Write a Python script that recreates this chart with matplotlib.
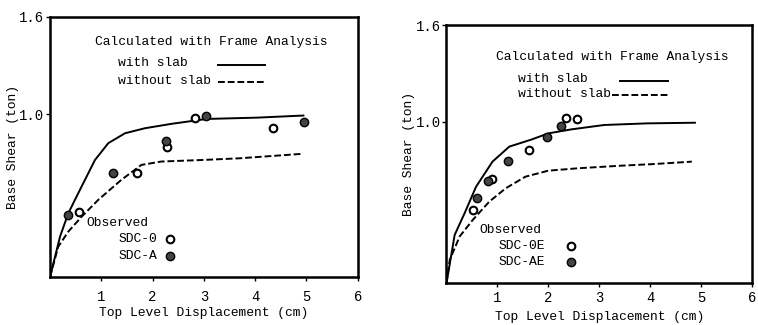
import matplotlib.pyplot as plt

plt.rcParams['font.family'] = ['Liberation Mono', 'DejaVu Sans Mono']

# left panel: SDC-0 / SDC-A
l_slab_x = [0, 0.195, 0.357, 0.55, 0.877, 1.136, 1.462, 1.852, 2.37, 2.827, 3.055, 4.03, 4.94]
l_slab_y = [0, 0.248, 0.392, 0.515, 0.72, 0.823, 0.884, 0.915, 0.942, 0.962, 0.972, 0.98, 0.993]
l_noslab_x = [0, 0.16, 0.357, 0.618, 0.94, 1.39, 1.78, 2.17, 3.01, 3.70, 4.9]
l_noslab_y = [0, 0.186, 0.279, 0.371, 0.474, 0.597, 0.689, 0.71, 0.72, 0.73, 0.757]
sdc0_x = [0.571, 1.69, 2.29, 2.83, 4.34]
sdc0_y = [0.402, 0.638, 0.802, 0.977, 0.915]
sdca_x = [0.357, 1.234, 2.255, 3.035, 4.96]
sdca_y = [0.382, 0.642, 0.839, 0.993, 0.956]

# right panel: SDC-0E / SDC-AE
r_slab_x = [0, 0.161, 0.355, 0.582, 0.904, 1.234, 1.68, 2.0, 2.456, 3.10, 3.94, 4.88]
r_slab_y = [0, 0.30, 0.434, 0.599, 0.754, 0.847, 0.892, 0.929, 0.954, 0.981, 0.991, 0.995]
r_noslab_x = [0, 0.064, 0.258, 0.516, 0.84, 1.164, 1.552, 2.0, 2.586, 3.43, 4.07, 4.82]
r_noslab_y = [0, 0.145, 0.29, 0.393, 0.506, 0.589, 0.661, 0.698, 0.713, 0.729, 0.739, 0.754]
sdc0e_x = [0.53, 0.885, 1.63, 2.34, 2.57]
sdc0e_y = [0.455, 0.647, 0.826, 1.022, 1.018]
sdcae_x = [0.594, 0.808, 1.215, 1.97, 2.24]
sdcae_y = [0.527, 0.637, 0.758, 0.908, 0.975]

xticks = [1, 2, 3, 4, 5, 6]
yticks = [1.0, 1.6]
ytick_labels = ['1.0', '1.6']

fig = plt.figure(figsize=(7.58, 3.25), dpi=100)
ax1 = fig.add_axes([0.066, 0.148, 0.406, 0.80])
ax2 = fig.add_axes([0.589, 0.128, 0.403, 0.795])

panels = [
    (ax1, l_slab_x, l_slab_y, l_noslab_x, l_noslab_y, sdc0_x, sdc0_y, sdca_x, sdca_y,
     'SDC-0', 'SDC-A',
     dict(title=(0.877, 1.448), ws=(1.33, 1.315), wos=(1.33, 1.206),
          ls=(3.28, 4.19), lns=(3.28, 4.19), obs=(0.715, 0.33), s1=(1.33, 0.234),
          s2=(1.33, 0.129), mx=2.33, xpad=6.5, xlab=-0.138, ylab=-0.119)),
    (ax2, r_slab_x, r_slab_y, r_noslab_x, r_noslab_y, sdc0e_x, sdc0e_y, sdcae_x, sdcae_y,
     'SDC-0E', 'SDC-AE',
     dict(title=(0.97, 1.403), ws=(1.41, 1.266), wos=(1.41, 1.171),
          ls=(3.41, 4.36), lns=(3.26, 4.36), obs=(0.646, 0.331), s1=(1.02, 0.234),
          s2=(1.02, 0.131), mx=2.44, xpad=2.5, xlab=-0.13, ylab=-0.124)),
]

fs = 9.4
for ax, sx, sy, nx, ny, ox, oy, fx, fy, n1, n2, p in panels:
    ax.plot(sx, sy, color='black', lw=1.4)
    ax.plot(nx, ny, color='black', lw=1.4, dashes=(3.5, 1.5))
    ax.plot(ox, oy, 'o', ms=5.5, mfc='white', mec='black', mew=1.5)
    ax.plot(fx, fy, 'o', ms=6, mfc='#444444', mec='black', mew=1)

    ax.text(p['title'][0], p['title'][1], 'Calculated with Frame Analysis', fontsize=fs, va='center')
    ax.text(p['ws'][0], p['ws'][1], 'with slab', fontsize=fs, va='center')
    ax.text(p['wos'][0], p['wos'][1], 'without slab', fontsize=fs, va='center')
    ax.plot(p['ls'], [p['ws'][1] - 0.012] * 2, color='black', lw=1.4)
    ax.plot(p['lns'], [p['wos'][1] - 0.006] * 2, color='black', lw=1.4, dashes=(3.5, 1.5))
    ax.text(p['obs'][0], p['obs'][1], 'Observed', fontsize=fs, va='center')
    ax.text(p['s1'][0], p['s1'][1], n1, fontsize=fs, va='center')
    ax.text(p['s2'][0], p['s2'][1], n2, fontsize=fs, va='center')
    ax.plot([p['mx']], [p['s1'][1]], 'o', ms=5.5, mfc='white', mec='black', mew=1.5)
    ax.plot([p['mx']], [p['s2'][1]], 'o', ms=6, mfc='#444444', mec='black', mew=1)

    ax.set_xlim(0, 6)
    ax.set_ylim(0, 1.6)
    ax.set_xticks(xticks)
    ax.set_yticks(yticks)
    ax.set_yticklabels(ytick_labels)
    ax.tick_params(labelsize=10, length=3, width=1)
    ax.tick_params(axis='x', pad=p['xpad'])
    ax.tick_params(axis='y', pad=1)
    for s in ax.spines.values():
        s.set_linewidth(1.8)
    ax.set_xlabel('Top Level Displacement (cm)', fontsize=fs, va='center')
    ax.xaxis.set_label_coords(0.5, p['xlab'])
    ax.set_ylabel('Base Shear (ton)', fontsize=fs, va='center')
    ax.yaxis.set_label_coords(p['ylab'], 0.5)

fig.savefig('out.png', dpi=100)
